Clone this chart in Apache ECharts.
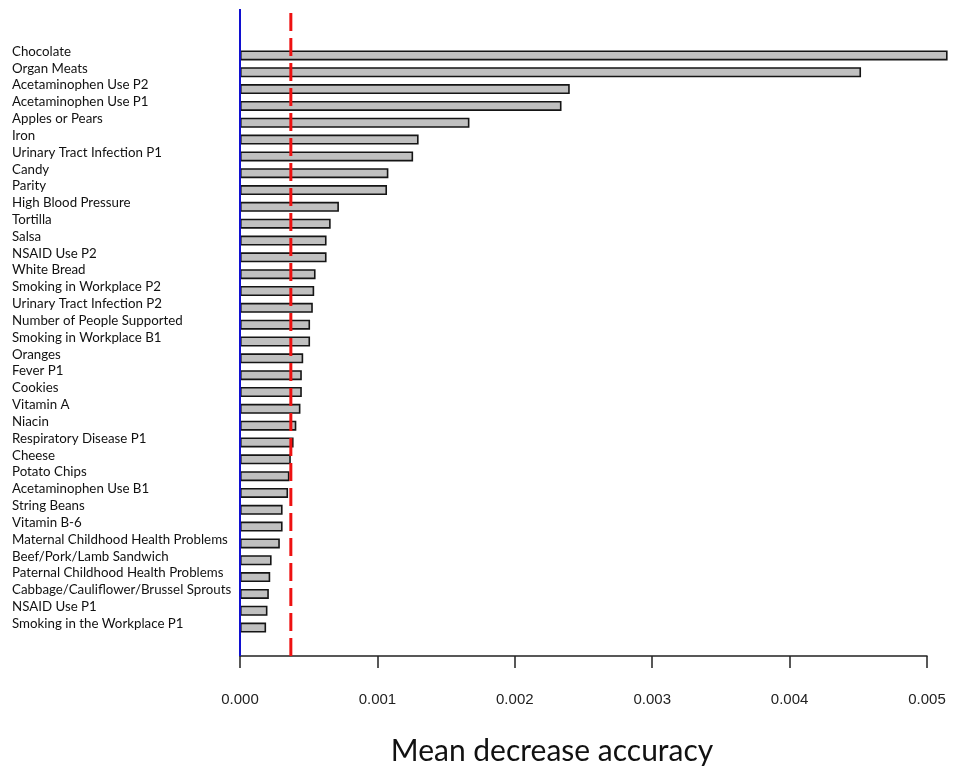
<!DOCTYPE html>
<html>
<head>
<meta charset="utf-8">
<script src="https://cdn.jsdelivr.net/npm/echarts@6/dist/echarts.min.js"></script>
<style>
  html, body { margin: 0; padding: 0; background: #ffffff; }
  #chart { width: 954px; height: 771px; }
</style>
</head>
<body>
<div id="chart"></div>
<script>
const categories = [
  "Chocolate", "Organ Meats", "Acetaminophen Use P2", "Acetaminophen Use P1",
  "Apples or Pears", "Iron", "Urinary Tract Infection P1", "Candy", "Parity",
  "High Blood Pressure", "Tortilla", "Salsa", "NSAID Use P2", "White Bread",
  "Smoking in Workplace P2", "Urinary Tract Infection P2", "Number of People Supported",
  "Smoking in Workplace B1", "Oranges", "Fever P1", "Cookies", "Vitamin A", "Niacin",
  "Respiratory Disease P1", "Cheese", "Potato Chips", "Acetaminophen Use B1",
  "String Beans", "Vitamin B-6", "Maternal Childhood Health Problems",
  "Beef/Pork/Lamb Sandwich", "Paternal Childhood Health Problems",
  "Cabbage/Cauliflower/Brussel Sprouts", "NSAID Use P1", "Smoking in the Workplace P1"
];
const meanDecreaseAccuracy = [
  0.00515, 0.00452, 0.00240, 0.00234,
  0.00167, 0.00130, 0.00126, 0.00108, 0.00107,
  0.00072, 0.00066, 0.00063, 0.00063, 0.00055,
  0.00054, 0.00053, 0.00051,
  0.00051, 0.00046, 0.00045, 0.00045, 0.00044, 0.00041,
  0.00039, 0.00037, 0.00036, 0.00035,
  0.00031, 0.00031, 0.00029,
  0.00023, 0.00022,
  0.00021, 0.00020, 0.00019
];
const xTicks = [0, 0.001, 0.002, 0.003, 0.004, 0.005];
const baselineValue = 0;
const thresholdValue = 0.00037;
const axisTitle = "Mean decrease accuracy";

const chart = echarts.init(document.getElementById('chart'), null, { renderer: 'canvas' });

const xMin = xTicks[0], xMax = xTicks[xTicks.length - 1], xStep = xTicks[1] - xTicks[0];

const option = {
  backgroundColor: '#ffffff',
  animation: false,
  grid: [
    { left: 240, right: 27, top: 9, bottom: 114 },
    { left: 240, right: 27, top: 47, bottom: 135 }
  ],
  xAxis: [
    {
      gridIndex: 0, type: 'value', min: xMin, max: xMax, interval: xStep,
      splitLine: { show: false },
      axisLine: { show: true, lineStyle: { color: '#222', width: 1.5 } },
      axisTick: { show: true, length: 12, lineStyle: { color: '#222', width: 1.5 } },
      axisLabel: {
        margin: 36, color: '#222', fontSize: 15, fontFamily: 'Liberation Sans, Arial, sans-serif',
        formatter: v => v.toFixed(3)
      },
      name: axisTitle, nameLocation: 'middle', nameGap: 80,
      nameTextStyle: { fontSize: 30, color: '#111', fontFamily: 'Lato, sans-serif', padding: [0, 63, 0, 0] }
    },
    {
      gridIndex: 1, type: 'value', min: xMin, max: xMax, show: false
    }
  ],
  yAxis: [
    { gridIndex: 0, type: 'value', min: 0, max: 1, show: false },
    {
      gridIndex: 1, type: 'category', data: categories, inverse: true,
      axisLine: { show: false }, axisTick: { show: false },
      axisLabel: {
        align: 'left', margin: 228, color: '#111', fontSize: 13.3,
        fontFamily: 'Lato, sans-serif', verticalAlign: 'bottom', lineHeight: 8, interval: 0
      }
    }
  ],
  series: [
    {
      type: 'bar', xAxisIndex: 1, yAxisIndex: 1, data: meanDecreaseAccuracy,
      barWidth: 10, clip: false, z: 2,
      itemStyle: { color: '#c0c0c0', borderColor: '#151515', borderWidth: 1.6 }
    },
    {
      type: 'line', xAxisIndex: 0, yAxisIndex: 0, z: 5, silent: true,
      data: [[baselineValue, 0], [baselineValue, 1]],
      showSymbol: false, symbol: 'none',
      lineStyle: { color: '#1010d0', width: 2, type: 'solid' }
    },
    {
      type: 'line', xAxisIndex: 0, yAxisIndex: 0, z: 6, silent: true,
      data: [[thresholdValue, 0], [thresholdValue, 1]],
      showSymbol: false, symbol: 'none',
      lineStyle: { color: '#ee1111', width: 3, type: [18, 7] }
    }
  ]
};
chart.setOption(option);
</script>
</body>
</html>
